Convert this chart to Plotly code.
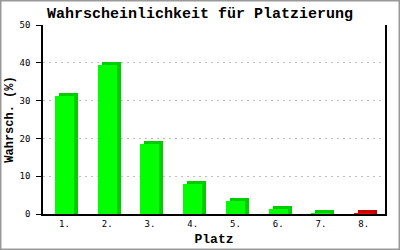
import plotly.graph_objects as go

places = ["1.", "2.", "3.", "4.", "5.", "6.", "7.", "8."]
probs = [31.3, 39.5, 18.5, 8.0, 3.5, 1.2, 0.2, 0.15]
front_colors = ["#00ff00"] * 7 + ["#ff0000"]
side_colors = ["#00cc00"] * 7 + ["#cc0000"]

W, H = 400, 250
ml, mr, mt, mb = 43, 15, 25, 36
pw, ph = W - ml - mr, H - mt - mb
ymax = 50
xpos = list(range(len(places)))

bw = 0.45
dx = 4 / (pw / len(places))      # 4 px in data units
dy = 3 / (ph / ymax)             # 3 px in data units

fig = go.Figure()
fig.add_trace(go.Bar(
    x=xpos, y=[v + dy for v in probs], base=0,
    width=bw, offset=-bw / 2 + dx,
    marker=dict(color=side_colors, line=dict(width=0)),
    hoverinfo="skip", showlegend=False))
fig.add_trace(go.Bar(
    x=xpos, y=probs, width=bw, offset=-bw / 2,
    marker=dict(color=front_colors, line=dict(width=0)),
    showlegend=False))

mono = "Liberation Mono, DejaVu Sans Mono, monospace"
fig.update_layout(
    width=W, height=H,
    margin=dict(l=ml, r=mr, t=mt, b=mb, autoexpand=False),
    paper_bgcolor="white", plot_bgcolor="white",
    barmode="overlay", bargap=0,
    title=dict(text="<b>Wahrscheinlichkeit für Platzierung</b>",
               font=dict(family=mono, size=15, color="black"),
               x=0.5, xanchor="center", xref="container",
               y=1 - 13 / H, yanchor="middle", yref="container"),
    xaxis=dict(range=[-0.5, len(places) - 0.5], tickvals=xpos, ticktext=places,
               automargin=False,
               showgrid=False, zeroline=False, showline=True, linecolor="black",
               linewidth=1.5, ticks="", fixedrange=True,
               tickfont=dict(family="DejaVu Sans Mono", size=9, color="black"),
               title=dict(text="<b>Platz</b>", standoff=6,
                          font=dict(family=mono, size=13, color="black"))),
    yaxis=dict(range=[0, ymax], dtick=10, showgrid=True, gridcolor="#c0c0c0",
               automargin=False,
               griddash="2px,4px", gridwidth=1, zeroline=False,
               showline=True, linecolor="black", linewidth=1.5, mirror=True,
               ticks="outside", ticklen=5, tickcolor="black", tickwidth=1,
               ticklabelstandoff=4,
               tickfont=dict(family="DejaVu Sans Mono", size=9, color="black"),
               title=dict(text="<b>Wahrsch. (%)</b>", standoff=3,
                          font=dict(family=mono, size=12, color="black"))),
    shapes=[dict(type="rect", xref="paper", yref="paper",
                 x0=-ml / pw, x1=(W - ml) / pw,
                 y0=-mb / ph, y1=1 + mt / ph,
                 line=dict(color="#999999", width=3), layer="above")],
)

fig.write_html("out.html")
